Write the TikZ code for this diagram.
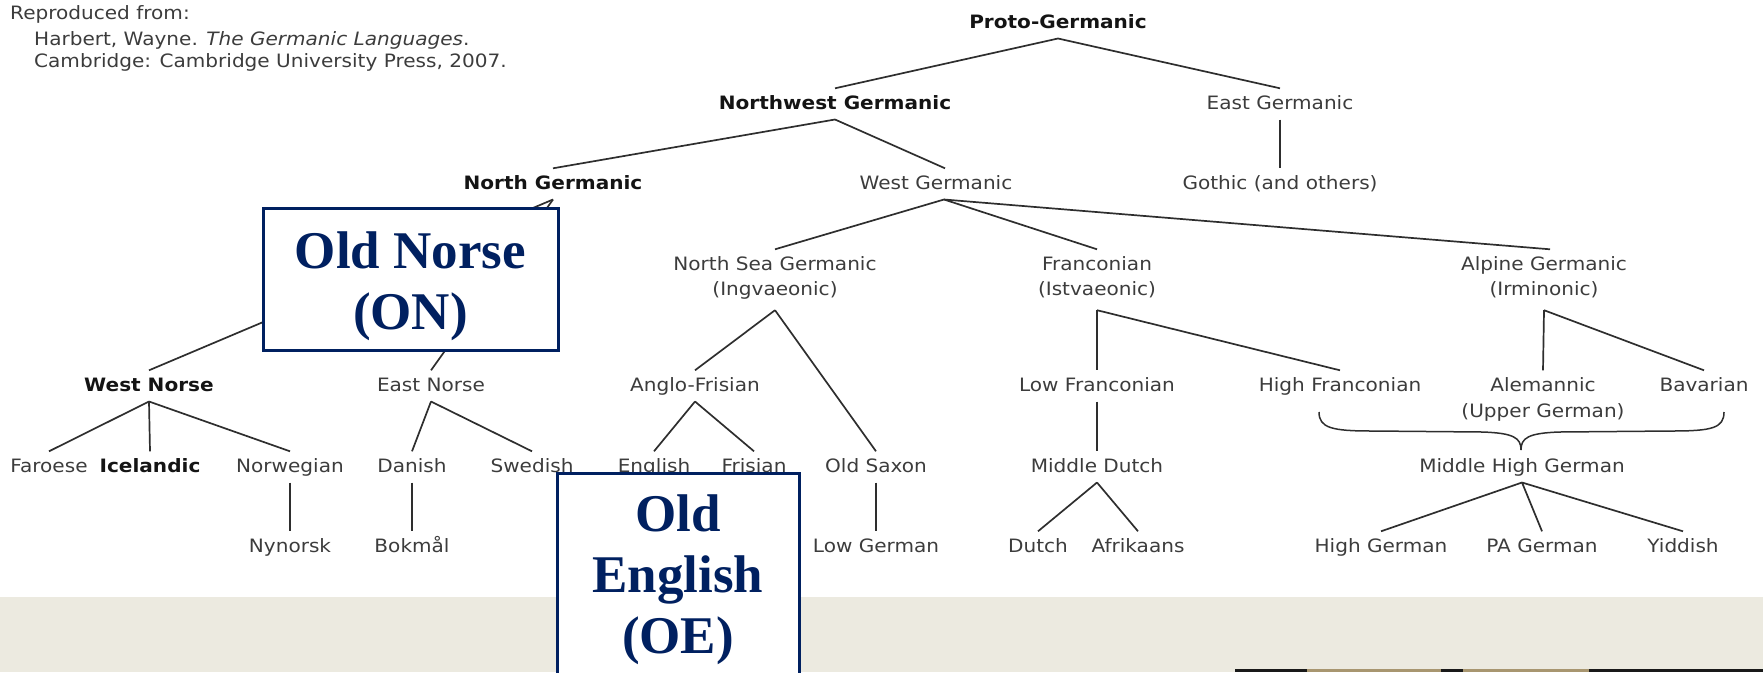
\documentclass[tikz,border=0pt]{standalone}
\usepackage{fontspec}
\newfontfamily\tf[FakeStretch=1.09]{DejaVu Sans}
\newfontfamily\bxf{Liberation Serif}
\definecolor{navy}{HTML}{002060}
\definecolor{labc}{HTML}{3C3C3C}
\definecolor{boldc}{HTML}{141414}
\definecolor{linec}{HTML}{2E2E2E}
\definecolor{beige}{HTML}{ECEAE0}
\definecolor{tan}{HTML}{A89670}
\begin{document}
\begin{tikzpicture}[x=1pt,y=-1pt,
  lab/.style={font=\tf\fontsize{18.4}{22}\selectfont, text=labc, inner sep=0pt, anchor=base, text height=20.5pt, text depth=10.3pt},
  bl/.style={lab, text=boldc, font=\tf\fontsize{18.4}{22}\selectfont\bfseries},
  sub/.style={lab, text depth=15pt},
  cite/.style={font=\tf\fontsize{18.4}{22}\selectfont, text=labc, inner sep=0pt, anchor=base west},
  ln/.style={draw=linec, line width=1.7pt},
  obox/.style={draw=navy, line width=3pt, fill=white, inner sep=0pt},
  otext/.style={text=navy, font=\bxf\bfseries\fontsize{53}{61}\selectfont, align=center, inner sep=0pt}]
\useasboundingbox (0,0) rectangle (1763,672);
\clip (0,0) rectangle (1763,672);
% background band
\fill[beige] (0,597) rectangle (1763,672);
\fill[black!90] (1235,669) rectangle (1763,672);
\fill[tan] (1307,669) rectangle (1441,672);
\fill[tan] (1463,669) rectangle (1589,672);
% citation
\node[cite] (c1) at (10,19) {Reproduced from:};
\node[cite] (c2) at (34,45) {Harbert, Wayne. \textit{The Germanic Languages}.};
\node[cite] (c3) at (34,67) {Cambridge: Cambridge University Press, 2007.};
% tree nodes
\node[bl] (pg) at (1058,28) {Proto-Germanic};
\node[bl] (nw) at (835,109) {Northwest Germanic};
\node[lab] (eg) at (1280,109) {East Germanic};
\node[bl] (ng) at (553,189) {North Germanic};
\node[lab] (wg) at (936,189) {West Germanic};
\node[lab] (goth) at (1280,189) {Gothic (and others)};
\node[lab] (nsg) at (775,270) {North Sea Germanic};
\node[sub] (nsg2) at (775,295) {(Ingvaeonic)};
\node[lab] (fr) at (1097,270) {Franconian};
\node[sub] (fr2) at (1097,295) {(Istvaeonic)};
\node[lab] (alp) at (1544,270) {Alpine Germanic};
\node[sub] (alp2) at (1544,295) {(Irminonic)};
\node[bl] (wn) at (149,391) {West Norse};
\node[lab] (en) at (431,391) {East Norse};
\node[lab] (af) at (695,391) {Anglo-Frisian};
\node[lab] (lf) at (1097,391) {Low Franconian};
\node[lab] (hf) at (1340,391) {High Franconian};
\node[lab] (al) at (1543,391) {Alemannic};
\node[lab] (al2) at (1543,417) {(Upper German)};
\node[lab] (bav) at (1704,391) {Bavarian};
\node[lab] (far) at (49,472) {Faroese};
\node[bl] (ice) at (150,472) {Icelandic};
\node[lab] (nor) at (290,472) {Norwegian};
\node[lab] (dan) at (412,472) {Danish};
\node[lab] (swe) at (532,472) {Swedish};
\node[lab] (eng) at (654,472) {English};
\node[lab] (fri) at (754,472) {Frisian};
\node[lab] (os) at (876,472) {Old Saxon};
\node[lab] (md) at (1097,472) {Middle Dutch};
\node[lab] (mhg) at (1522,472) {Middle High German};
\node[lab] (nyn) at (290,552) {Nynorsk};
\node[lab] (bok) at (412,552) {Bokmål};
\node[lab] (lg) at (876,552) {Low German};
\node[lab] (dut) at (1038,552) {Dutch};
\node[lab] (afr) at (1138,552) {Afrikaans};
\node[lab] (hg) at (1381,552) {High German};
\node[lab] (pa) at (1542,552) {PA German};
\node[lab] (yid) at (1683,552) {Yiddish};
% connectors
\draw[ln] (pg.south) -- (nw.north);
\draw[ln] (pg.south) -- (eg.north);
\draw[ln] (nw.south) -- (ng.north);
\draw[ln] (nw.south) -- ([xshift=9pt]wg.north);
\draw[ln] (eg.south) -- (goth.north);
\draw[ln] ([xshift=8pt]wg.south) -- (nsg.north);
\draw[ln] ([xshift=8pt]wg.south) -- (fr.north);
\draw[ln] ([xshift=8pt]wg.south) -- ([xshift=6pt]alp.north);
\draw[ln] (ng.south) -- (wn.north);
\draw[ln] (ng.south) -- (en.north);
\draw[ln] (nsg2.south) -- (af.north);
\draw[ln] (nsg2.south) -- (os.north);
\draw[ln] (fr2.south) -- (lf.north);
\draw[ln] (fr2.south) -- (hf.north);
\draw[ln] (alp2.south) -- (al.north);
\draw[ln] (alp2.south) -- (bav.north);
\draw[ln] (wn.south) -- (far.north);
\draw[ln] (wn.south) -- (ice.north);
\draw[ln] (wn.south) -- (nor.north);
\draw[ln] (en.south) -- (dan.north);
\draw[ln] (en.south) -- (swe.north);
\draw[ln] (af.south) -- (eng.north);
\draw[ln] (af.south) -- (fri.north);
\draw[ln] (lf.south) -- (md.north);
\draw[ln] (nor.south) -- (nyn.north);
\draw[ln] (dan.south) -- (bok.north);
\draw[ln] (os.south) -- (lg.north);
\draw[ln] (md.south) -- (dut.north);
\draw[ln] (md.south) -- (afr.north);
\draw[ln] (mhg.south) -- (hg.north);
\draw[ln] (mhg.south) -- (pa.north);
\draw[ln] (mhg.south) -- (yid.north);
% brace
\draw[ln, line width=1.5pt] (1319,412) .. controls (1319,428) and (1332,431) .. (1372,431) -- (1482,432) .. controls (1514,433) and (1521,438) .. (1521,450)
  .. controls (1521,438) and (1528,433) .. (1560,432) -- (1672,431) .. controls (1712,431) and (1724,428) .. (1724,412);
% highlight boxes
\node[obox, minimum width=295pt, minimum height=142pt] (on) at (410.5,279) {};
\node[otext] (ontext) at ([yshift=-7pt]on.center) {Old Norse\\(ON)};
\node[obox, minimum width=242pt, minimum height=208pt, anchor=north] (oe) at (678,472) {};
\node[otext] (oetext) at ([yshift=-2pt]oe.center) {Old\\English\\(OE)};
\end{tikzpicture}
\end{document}
